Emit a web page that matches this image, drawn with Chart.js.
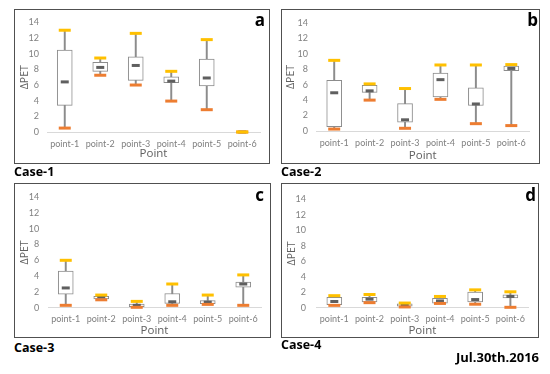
<!DOCTYPE html>
<html><head><meta charset="utf-8">
<script src="https://cdn.jsdelivr.net/npm/chart.js@4"></script>
<style>
body{margin:0;width:550px;height:374px;background:#fff;position:relative;overflow:hidden;font-family:"Open Sans",sans-serif}
.panel{position:absolute;box-sizing:border-box;border:1.5px solid #505050}
canvas{position:absolute}
.lbl{position:absolute;font-weight:bold;line-height:1;color:#000;white-space:nowrap}
</style></head><body>
<div class="panel" style="left:14px;top:9px;width:256px;height:155px"></div>
<div class="panel" style="left:281px;top:9px;width:259px;height:155px"></div>
<div class="panel" style="left:14px;top:183px;width:257px;height:155px"></div>
<div class="panel" style="left:281px;top:183px;width:258px;height:155px"></div>
<canvas id="ca" width="256" height="155" style="left:14px;top:9px"></canvas>
<canvas id="cb" width="259" height="155" style="left:281px;top:9px"></canvas>
<canvas id="cc" width="257" height="155" style="left:14px;top:183px"></canvas>
<canvas id="cd" width="258" height="155" style="left:281px;top:183px"></canvas>
<div class="lbl" style="font-size:17px;right:285px;top:11px">a</div>
<div class="lbl" style="font-size:17px;right:12px;top:11px">b</div>
<div class="lbl" style="font-size:17px;right:286px;top:186px">c</div>
<div class="lbl" style="font-size:17px;right:14px;top:186px">d</div>
<div class="lbl" style="font-size:12.5px;left:14px;top:165.5px">Case-1</div>
<div class="lbl" style="font-size:12.5px;left:281px;top:165.5px">Case-2</div>
<div class="lbl" style="font-size:12.5px;left:14px;top:342px">Case-3</div>
<div class="lbl" style="font-size:12.5px;left:281px;top:339px">Case-4</div>
<div class="lbl" style="font-size:13px;right:11px;top:351px">Jul.30th.2016</div>
<script>
const categories = ['point-1', 'point-2', 'point-3', 'point-4', 'point-5', 'point-6'];
const yTicks = [0, 2, 4, 6, 8, 10, 12, 14];

// Case-1
const aMin = [0.5, 7.25, 6.0, 3.95, 2.85, 0];
const aQ1  = [3.4, 7.75, 6.6, 6.3, 5.9, 0];
const aMed = [6.4, 8.25, 8.5, 6.5, 6.9, 0];
const aQ3  = [10.45, 8.9, 9.6, 7.05, 9.3, 0];
const aMax = [13.0, 9.45, 12.6, 7.75, 11.8, 0];
// Case-2
const bMin = [0.25, 4.0, 0.35, 4.1, 0.95, 0.7];
const bQ1  = [0.55, 5.0, 1.15, 4.4, 3.3, 7.8];
const bMed = [4.95, 5.2, 1.45, 6.65, 3.5, 8.1];
const bQ3  = [6.55, 5.9, 3.55, 7.5, 5.6, 8.4];
const bMax = [9.15, 6.1, 5.5, 8.55, 8.55, 8.6];
// Case-3
const cMin = [0.3, 1.0, 0.05, 0.3, 0.42, 0.3];
const cQ1  = [1.7, 1.1, 0.12, 0.55, 0.5, 2.6];
const cMed = [2.5, 1.35, 0.3, 0.75, 0.7, 3.0];
const cQ3  = [4.65, 1.45, 0.45, 1.8, 0.9, 3.25];
const cMax = [6.0, 1.6, 0.8, 3.0, 1.6, 4.15];
// Case-4
const dMin = [0.3, 0.65, 0.1, 0.55, 0.45, 0.05];
const dQ1  = [0.4, 0.75, 0.2, 0.6, 0.75, 1.25];
const dMed = [0.8, 1.1, 0.33, 0.87, 1.05, 1.45];
const dQ3  = [1.35, 1.35, 0.5, 1.2, 2.0, 1.65];
const dMax = [1.55, 1.7, 0.6, 1.45, 2.3, 2.05];

const gray = '#808080';

function boxPlot(id, mn, q1, med, q3, mx, L) {
  const pts = (arr, color, r, w, order) => ({
    type: 'line', data: arr, showLine: false, clip: false, order,
    pointStyle: 'line', pointRadius: r, pointHoverRadius: r,
    pointBorderWidth: w, pointBorderColor: color, pointBackgroundColor: color
  });
  new Chart(document.getElementById(id), {
    type: 'bar',
    data: {
      labels: categories,
      datasets: [
        { data: mn.map((v, i) => [v, mx[i]]), grouped: false, barThickness: 1.3,
          backgroundColor: '#8c8c8c', borderWidth: 0, order: 4, clip: false },
        { data: q1.map((v, i) => [v, q3[i]]), grouped: false, barThickness: 15,
          backgroundColor: '#ffffff', borderColor: '#8c8c8c', borderWidth: 1,
          borderSkipped: false, order: 3, clip: false },
        pts(med, '#5f5f5f', 4, 3, 2),
        pts(mn, '#ED7D31', 6, 3, 1),
        pts(mx, '#FFC000', 6, 3, 0)
      ]
    },
    options: {
      responsive: false, animation: false, devicePixelRatio: 1,
      layout: { padding: { left: 0, top: L.top, right: L.w - L.right, bottom: 0 } },
      plugins: { legend: { display: false }, tooltip: { enabled: false } },
      scales: {
        x: {
          grid: { display: false, drawTicks: false },
          border: { display: true, color: '#d9d9d9', width: 1 },
          ticks: { color: gray, font: { family: 'Lato', size: 9 }, padding: L.xtp,
                   autoSkip: false, maxRotation: 0 },
          title: { display: true, text: 'Point', color: '#606060',
                   font: { family: 'Open Sans', size: 11.5 }, padding: { top: 0, bottom: L.xtt } },
          afterFit: s => { s.height = L.h - L.bottom; }
        },
        y: {
          min: 0, max: 14,
          afterBuildTicks: s => { s.ticks = yTicks.map(v => ({ value: v })); },
          grid: { display: false, drawTicks: false },
          border: { display: false },
          ticks: { color: gray, font: { family: 'Lato', size: 9 }, padding: L.ytp },
          title: { display: true, text: 'ΔPET', color: '#606060',
                   font: { family: 'Open Sans', size: 10.5 }, padding: { top: L.ytt, bottom: 0 } },
          afterFit: s => { s.width = L.left; }
        }
      }
    }
  });
}

boxPlot('ca', aMin, aQ1, aMed, aQ3, aMax,
  { w: 256, h: 155, left: 33, right: 246, top: 11, bottom: 123, ytp: 8, ytt: 5, xtp: 7, xtt: 3 });
boxPlot('cb', bMin, bQ1, bMed, bQ3, bMax,
  { w: 259, h: 155, left: 35.5, right: 248, top: 11, bottom: 122, ytp: 8.5, ytt: 4, xtp: 7, xtt: 1 });
boxPlot('cc', cMin, cQ1, cMed, cQ3, cMax,
  { w: 257, h: 155, left: 34, right: 247, top: 11.3, bottom: 124.7, ytp: 8.7, ytt: 5, xtp: 5.6, xtt: 0.5 });
boxPlot('cd', dMin, dQ1, dMed, dQ3, dMax,
  { w: 258, h: 155, left: 35.7, right: 247, top: 12, bottom: 124.7, ytp: 10.7, ytt: 4.7, xtp: 5.6, xtt: 0.5 });
</script>
</body></html>
